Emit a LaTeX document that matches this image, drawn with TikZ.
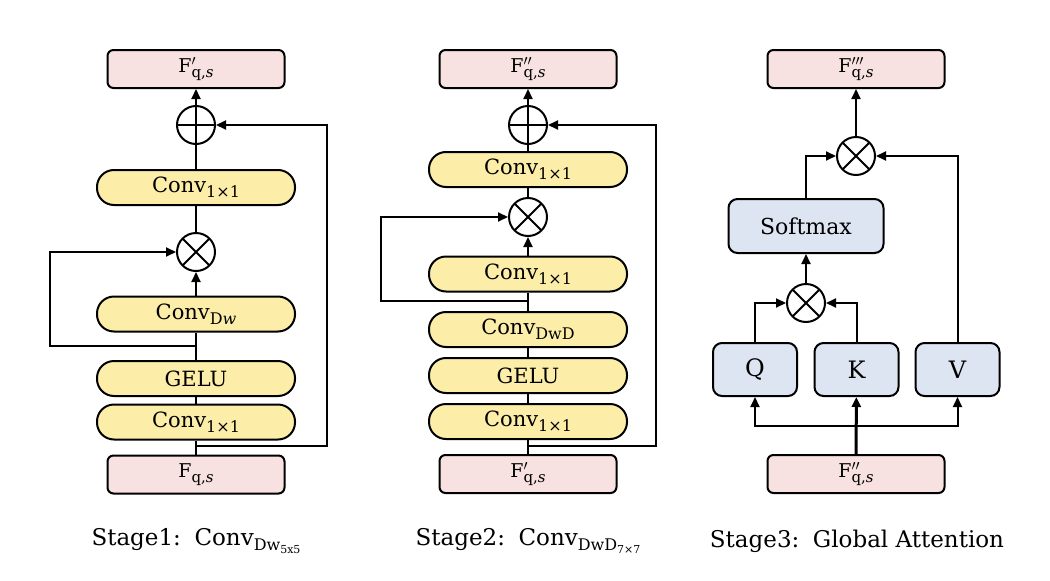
\documentclass[tikz,border=0pt]{standalone}
\usepackage{amsmath}
\usepackage{fontspec}
\setmainfont{DejaVu Serif}
\usepackage{tikz}
\usetikzlibrary{arrows.meta,calc}

\definecolor{featpink}{HTML}{F8E1E1}
\definecolor{convyellow}{HTML}{FCEEA8}
\definecolor{attnblue}{HTML}{DDE4F2}

\newcommand{\lsub}[1]{\raisebox{-5pt}{\fontsize{16}{16}\selectfont #1}}
\newcommand{\ssub}[1]{\raisebox{-3pt}{\fontsize{11}{11}\selectfont #1}}
\newcommand{\fqs}[1]{F\rlap{$^{#1}$}\raisebox{-5pt}{\fontsize{15}{15}\selectfont q,\textit{s}}}

\begin{document}
\begin{tikzpicture}[x=1pt,y=-1pt,line width=2pt]
        \tikzstyle{every node}=[font=\fontsize{21}{25}\selectfont]
        \tikzstyle{feat}=[draw,fill=featpink,rounded corners=6pt,minimum width=177pt,minimum height=38pt,inner sep=0pt,font=\fontsize{19}{23}\selectfont]
        \tikzstyle{conv}=[draw,fill=convyellow,rounded corners=17pt,minimum width=198pt,minimum height=35pt,inner sep=0pt]
        \tikzstyle{attn}=[draw,fill=attnblue,rounded corners=9pt,minimum height=53pt,inner sep=0pt,font=\fontsize{24}{28}\selectfont]
        \tikzstyle{addop}=[draw,circle,minimum size=38pt,inner sep=0pt,path picture={\draw (path picture bounding box.north) -- (path picture bounding box.south) (path picture bounding box.west) -- (path picture bounding box.east);}]
        \tikzstyle{mulop}=[draw,circle,minimum size=38pt,inner sep=0pt,path picture={\draw (path picture bounding box.north west) -- (path picture bounding box.south east) (path picture bounding box.north east) -- (path picture bounding box.south west);}]
        \tikzstyle{arr}=[-{Triangle[length=10pt,width=9pt]}]
        \tikzstyle{caption}=[font=\fontsize{23}{27}\selectfont]
        \useasboundingbox (0,0) rectangle (1050,581);

        %%% Stage 1
        \node[feat] (out1) at (196,69) {\fqs{\prime}};
        \node[addop] (add1) at (196,125) {};
        \node[conv] (cv1c) at (196,187.5) {Conv\lsub{1×1}};
        \node[mulop] (mul1) at (196,252) {};
        \node[conv] (cv1b) at (196,314) {Conv\lsub{D\textit{w}}};
        \node[conv] (gelu1) at (196,378.5) {GELU};
        \node[conv] (cv1a) at (196,422) {Conv\lsub{1×1}};
        \node[feat] (in1) at (196,474.5) {\fqs{}};
        \coordinate (l1) at (196,346);
        \coordinate (r1) at (196,446);
        \node[caption] (cap1) at (196,541) {Stage1:\, Conv\lsub{Dw\ssub{5x5}}};

        \draw (in1) -- (cv1a);
        \draw (cv1a) -- (gelu1);
        \draw (gelu1) -- (cv1b);
        \draw[arr] (cv1b) -- (mul1);
        \draw (mul1) -- (cv1c);
        \draw (cv1c) -- (add1);
        \draw[arr] (add1) -- (out1);
        \draw[arr] (l1) -- (50,346) |- (mul1.west);
        \draw[arr] (r1) -- (327,446) |- (add1.east);

        %%% Stage 2
        \node[feat] (out2) at (528,69) {\fqs{\prime\prime}};
        \node[addop] (add2) at (528,125) {};
        \node[conv] (cv2c) at (528,169.5) {Conv\lsub{1×1}};
        \node[mulop] (mul2) at (528,217) {};
        \node[conv] (cv2b) at (528,274) {Conv\lsub{1×1}};
        \node[conv] (cv2dw) at (528,329.5) {Conv\lsub{DwD}};
        \node[conv] (gelu2) at (528,375.5) {GELU};
        \node[conv] (cv2a) at (528,421.5) {Conv\lsub{1×1}};
        \node[feat] (in2) at (528,474) {\fqs{\prime}};
        \coordinate (l2) at (528,301);
        \coordinate (r2) at (528,446);
        \node[caption] (cap2) at (528,541) {Stage2:\, Conv\lsub{DwD\ssub{7×7}}};

        \draw (in2) -- (cv2a);
        \draw (cv2a) -- (gelu2);
        \draw (gelu2) -- (cv2dw);
        \draw (cv2dw) -- (cv2b);
        \draw[arr] (cv2b) -- (mul2);
        \draw (mul2) -- (cv2c);
        \draw (cv2c) -- (add2);
        \draw[arr] (add2) -- (out2);
        \draw[arr] (l2) -- (381,301) |- (mul2.west);
        \draw[arr] (r2) -- (656,446) |- (add2.east);

        %%% Stage 3
        \node[feat] (out3) at (856,69) {\fqs{\prime\prime\prime}};
        \node[mulop] (mul3) at (856,156) {};
        \node[attn,minimum width=155pt,minimum height=54pt,font=\fontsize{22}{26}\selectfont] (soft) at (806,226) {Softmax};
        \node[mulop] (mul4) at (806,303) {};
        \node[attn,minimum width=84pt] (q) at (755,369.5) {Q};
        \node[attn,minimum width=84pt] (k) at (856.5,369.5) {K};
        \node[attn,minimum width=84pt] (v) at (957.5,369.5) {V};
        \node[feat] (in3) at (856,474) {\fqs{\prime\prime}};
        \coordinate (split) at (856,426);
        \node[caption] (cap3) at (857,541) {Stage3:\, Global Attention};

        \draw[arr] (mul3) -- (out3);
        \draw[arr] (soft.north) |- (mul3.west);
        \draw[arr] (v.north) |- (mul3.east);
        \draw[arr] (mul4) -- (soft);
        \draw[arr] (q.north) |- (mul4.west);
        \draw[arr] (k.north) |- (mul4.east);
        \draw[arr,line width=3pt] (in3) -- (k);
        \draw[arr] (split) -| (q.south);
        \draw[arr] (split) -| (v.south);
    \end{tikzpicture}
\end{document}
